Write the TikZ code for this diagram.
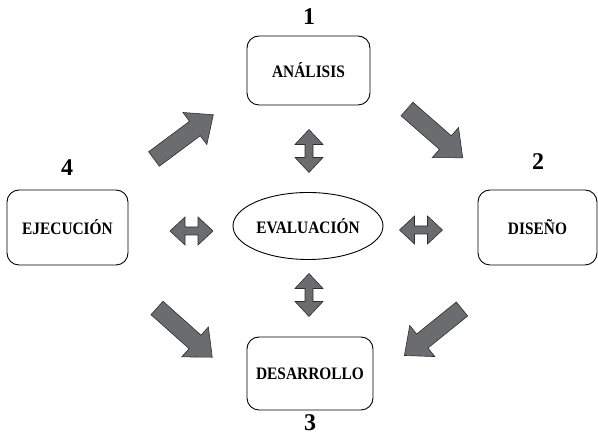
\documentclass[tikz,border=0pt]{standalone}
\usepackage{fontspec}
\setmainfont{Liberation Serif}
\usetikzlibrary{shapes.geometric}
\definecolor{arrowgray}{HTML}{6B6C6F}
\definecolor{edgegray}{HTML}{2E2E2E}
% slightly condensed bold caps for the stage labels
\newcommand{\stagelabel}[1]{\scalebox{0.88}[1]{#1}}
\begin{document}
\begin{tikzpicture}[x=1pt,y=1pt,
  stagebox/.style={draw=black, line width=0.9pt, rounded corners=12pt,
    font=\fontsize{17.5}{20}\selectfont\bfseries},
  centerbox/.style={draw=black, line width=0.9pt, ellipse, inner sep=0pt,
    minimum width=150, minimum height=67,
    font=\fontsize{17.5}{20}\selectfont\bfseries},
  stagenum/.style={font=\fontsize{24}{26}\selectfont\bfseries},
  arrowbody/.style={fill=arrowgray, draw=edgegray, line width=0.6pt, line join=miter},
  bigarrow/.pic={
    \filldraw[arrowbody] (0,-9) -- (51,-9) -- (51,-20) -- (74,0) -- (51,20)
      -- (51,9) -- (0,9) -- cycle;},
  twoway/.pic={
    \filldraw[arrowbody] (-21.5,0) -- (-6.5,14) -- (-6.5,4) -- (6.5,4) -- (6.5,14)
      -- (21.5,0) -- (6.5,-14) -- (6.5,-4) -- (-6.5,-4) -- (-6.5,-14) -- cycle;}
]
\useasboundingbox (0,0) rectangle (598,435);

% stages of the cycle
\node[stagebox, minimum width=123, minimum height=69] (ana) at (308.5,364.5) {\stagelabel{ANÁLISIS}};
\node[stagebox, minimum width=119, minimum height=75] (dis) at (537.5,207.5) {\stagelabel{DISEÑO}};
\node[stagebox, minimum width=126, minimum height=73] (des) at (310,61.5) {\stagelabel{DESARROLLO}};
\node[stagebox, minimum width=121, minimum height=75] (eje) at (67.5,207.5) {\stagelabel{EJECUCIÓN}};
\node[centerbox] (eva) at (308,209) {\stagelabel{EVALUACIÓN}};

% stage numbers
\node[stagenum] (n1) at (309,418) {1};
\node[stagenum] (n2) at (538,273) {2};
\node[stagenum] (n3) at (310,12) {3};
\node[stagenum] (n4) at (67,267) {4};

% flow of the cycle
\pic[rotate=36.7] at (154,276) {bigarrow};
\pic[rotate=-41.2] at (407,326) {bigarrow};
\pic[rotate=-41.7] at (157,127) {bigarrow};
\pic[rotate=218.9] at (462,126) {bigarrow};

% exchanges with the evaluation
\pic[rotate=90] at (309,284) {twoway};
\pic[rotate=90] at (309,140) {twoway};
\pic at (191.5,204) {twoway};
\pic at (421,205) {twoway};
\end{tikzpicture}
\end{document}
